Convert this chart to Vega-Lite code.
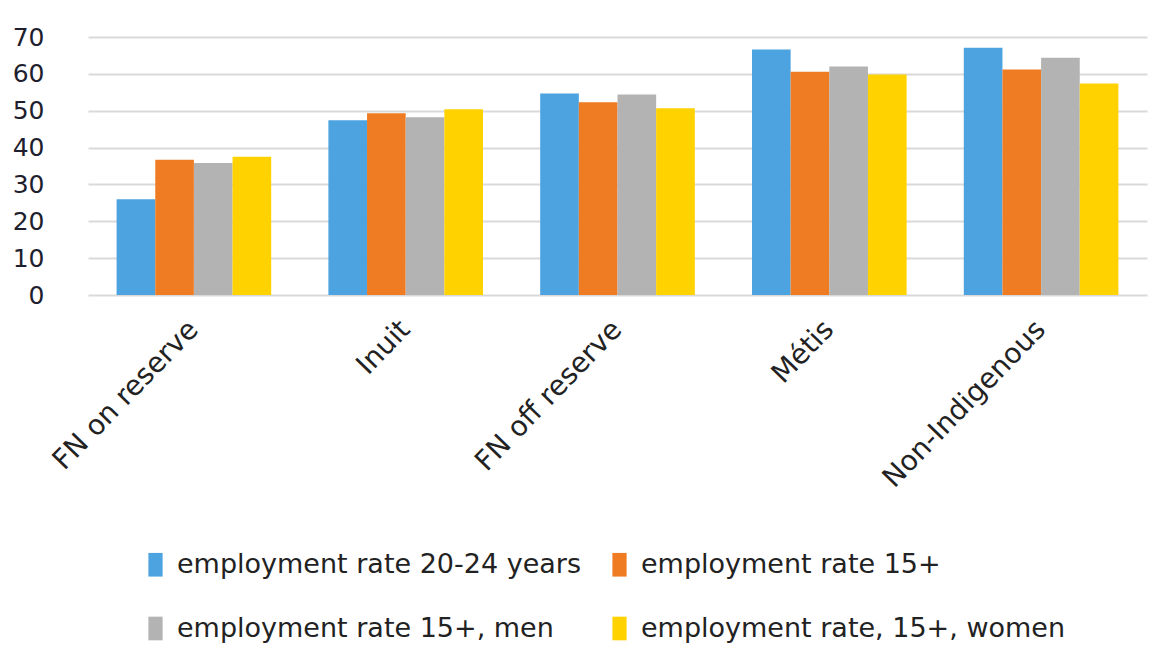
{
  "$schema": "https://vega.github.io/schema/vega-lite/v6.json",
  "width": 1059,
  "height": 258,
  "autosize": {"type": "none"},
  "padding": {"left": 88, "top": 37, "right": 16, "bottom": 350},
  "background": "white",
  "config": {"view": {"stroke": null}, "font": "DejaVu Sans"},
  "data": {
    "values": [
      {"group": "FN on reserve", "series": "employment rate 20-24 years", "value": 26},
      {"group": "FN on reserve", "series": "employment rate 15+", "value": 36.7},
      {"group": "FN on reserve", "series": "employment rate 15+, men", "value": 35.8},
      {"group": "FN on reserve", "series": "employment rate, 15+, women", "value": 37.5},
      {"group": "Inuit", "series": "employment rate 20-24 years", "value": 47.4},
      {"group": "Inuit", "series": "employment rate 15+", "value": 49.3},
      {"group": "Inuit", "series": "employment rate 15+, men", "value": 48.2},
      {"group": "Inuit", "series": "employment rate, 15+, women", "value": 50.4},
      {"group": "FN off reserve", "series": "employment rate 20-24 years", "value": 54.7},
      {"group": "FN off reserve", "series": "employment rate 15+", "value": 52.3},
      {"group": "FN off reserve", "series": "employment rate 15+, men", "value": 54.4},
      {"group": "FN off reserve", "series": "employment rate, 15+, women", "value": 50.7},
      {"group": "Métis", "series": "employment rate 20-24 years", "value": 66.6},
      {"group": "Métis", "series": "employment rate 15+", "value": 60.6},
      {"group": "Métis", "series": "employment rate 15+, men", "value": 62},
      {"group": "Métis", "series": "employment rate, 15+, women", "value": 59.8},
      {"group": "Non-Indigenous", "series": "employment rate 20-24 years", "value": 67.1},
      {"group": "Non-Indigenous", "series": "employment rate 15+", "value": 61.2},
      {"group": "Non-Indigenous", "series": "employment rate 15+, men", "value": 64.4},
      {"group": "Non-Indigenous", "series": "employment rate, 15+, women", "value": 57.4}
    ]
  },
  "mark": {"type": "bar"},
  "encoding": {
    "x": {
      "field": "group",
      "type": "nominal",
      "sort": null,
      "scale": {"paddingInner": 0.27, "paddingOuter": 0.135},
      "axis": {
        "title": null,
        "labelAngle": -46,
        "labelFontSize": 28,
        "labelColor": "#222222",
        "labelPadding": 30,
        "labelLimit": 0,
        "domain": false,
        "ticks": false,
        "grid": false
      }
    },
    "xOffset": {
      "field": "series",
      "type": "nominal",
      "sort": ["employment rate 20-24 years", "employment rate 15+", "employment rate 15+, men", "employment rate, 15+, women"]
    },
    "y": {
      "field": "value",
      "type": "quantitative",
      "scale": {"domain": [0, 70], "nice": false},
      "axis": {
        "title": null,
        "values": [0, 10, 20, 30, 40, 50, 60, 70],
        "labelFontSize": 25,
        "labelColor": "#1e1e2e",
        "labelPadding": 44,
        "domain": false,
        "ticks": false,
        "grid": true,
        "gridColor": "#d9d9d9",
        "gridWidth": 2
      }
    },
    "color": {
      "field": "series",
      "type": "nominal",
      "sort": ["employment rate 20-24 years", "employment rate 15+", "employment rate 15+, men", "employment rate, 15+, women"],
      "scale": {
        "domain": ["employment rate 20-24 years", "employment rate 15+", "employment rate 15+, men", "employment rate, 15+, women"],
        "range": ["#4DA3E0", "#EF7B22", "#B3B3B3", "#FFD200"]
      },
      "legend": {
        "title": null,
        "orient": "none",
        "legendX": 54,
        "legendY": 514,
        "direction": "horizontal",
        "columns": 2,
        "columnPadding": 24,
        "rowPadding": 36,
        "symbolType": "M-0.6,-1H0.6V1H-0.6Z",
        "symbolSize": 560,
        "symbolStrokeWidth": 0,
        "labelFontSize": 27,
        "labelColor": "#222222",
        "labelOffset": 8,
        "labelLimit": 600
      }
    }
  }
}
